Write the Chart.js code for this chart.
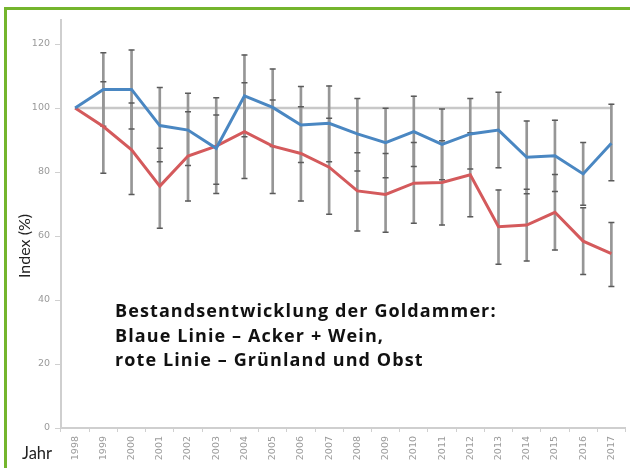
<!DOCTYPE html>
<html>
<head>
<meta charset="utf-8">
<script src="https://cdn.jsdelivr.net/npm/chart.js@4/dist/chart.umd.min.js"></script>
<style>
  html, body { margin: 0; padding: 0; background: #fff; }
  #wrap { position: relative; width: 630px; height: 468px; overflow: hidden; background: #fff; }
  #frame { position: absolute; left: 4px; top: 7px; width: 640px; height: 480px;
           border-top: 3px solid #74b52d; border-left: 3px solid #74b52d; }
  #c { position: absolute; left: 0; top: 0; }
  .note { position: absolute; left: 115px; top: 298px; font-family: "Open Sans", Lato, sans-serif;
          font-weight: bold; font-size: 18px; line-height: 24.5px; letter-spacing: 1.1px; color: #111; white-space: nowrap; }
  .jahr { position: absolute; left: 22px; top: 443px; font-family: Lato, sans-serif; font-size: 16.5px; color: #222; }
  .ytitle { position: absolute; left: 23px; top: 246px; transform: translate(-50%, -50%) rotate(-90deg);
            font-family: Lato, sans-serif; font-size: 16px; color: #222; white-space: nowrap; }
</style>
</head>
<body>
<div id="wrap">
  <div id="frame"></div>
  <canvas id="c" width="630" height="468"></canvas>
  <div class="ytitle">Index (%)</div>
  <div class="jahr">Jahr</div>
  <div class="note">Bestandsentwicklung der Goldammer:<br>Blaue Linie – Acker + Wein,<br>rote Linie – Grünland und Obst</div>
</div>
<script>
const years = ['1998','1999','2000','2001','2002','2003','2004','2005','2006','2007',
               '2008','2009','2010','2011','2012','2013','2014','2015','2016','2017'];
const blueIndex = [100,105.8,105.8,94.5,93.1,87.4,103.8,100.2,94.7,95.2,91.9,89.2,92.6,88.6,91.9,93.1,84.6,85.1,79.4,89.0];
const redIndex  = [100,94.2,86.9,75.6,85.0,88.1,92.6,88.1,85.8,81.5,74.1,73.0,76.5,76.7,79.1,62.9,63.4,67.4,58.4,54.5];
const blueHigh = [null,117.3,118.1,106.4,104.6,103.2,116.6,112.2,106.7,106.9,103.0,99.9,103.7,99.7,103.0,104.9,95.9,96.2,89.2,101.2];
const blueLow  = [null,94.3,93.4,83.2,82.0,76.2,91.0,88.0,83.0,83.2,80.3,78.2,81.7,77.6,80.9,81.3,73.2,73.9,69.6,77.3];
const redHigh  = [null,108.2,101.6,87.4,98.8,97.8,107.9,102.5,100.4,96.8,86.0,85.8,89.2,89.8,92.3,74.4,74.6,79.2,68.8,64.2];
const redLow   = [null,79.6,73.0,62.4,70.9,73.3,78.0,73.3,70.9,66.8,61.6,61.2,64.0,63.4,66.0,51.2,52.2,55.6,48.0,44.2];
const reference = years.map(() => 100);
const yTicks = [0,20,40,60,80,100,120];

const range = (lo, hi) => lo.map((v, i) => v === null ? null : [v, hi[i]]);
const capStyle = (data) => ({
  type: 'line', data, showLine: false, pointStyle: 'line', pointRadius: 3,
  pointBorderWidth: 1.5, pointBorderColor: '#5a5a5a', pointBackgroundColor: '#5a5a5a',
  borderColor: '#5a5a5a', order: 3, pointHoverRadius: 3
});

new Chart(document.getElementById('c'), {
  type: 'line',
  data: {
    labels: years,
    datasets: [
      { label: 'Acker + Wein', data: blueIndex, borderColor: '#4a87c2', borderWidth: 3,
        pointRadius: 0, tension: 0, order: 1 },
      { label: 'Grünland und Obst', data: redIndex, borderColor: '#d45a5c', borderWidth: 3,
        pointRadius: 0, tension: 0, order: 2 },
      capStyle(blueHigh), capStyle(blueLow), capStyle(redHigh), capStyle(redLow),
      { type: 'bar', data: range(blueLow, blueHigh), backgroundColor: '#969696',
        barThickness: 2, grouped: false, order: 4 },
      { type: 'bar', data: range(redLow, redHigh), backgroundColor: '#969696',
        barThickness: 2, grouped: false, order: 4 },
      { data: reference, borderColor: '#c8c8c8', borderWidth: 2.5, pointRadius: 0, order: 5 }
    ]
  },
  options: {
    responsive: false,
    animation: false,
    layout: { padding: { left: 0, right: 1, top: 20, bottom: 0 } },
    plugins: { legend: { display: false }, tooltip: { enabled: false } },
    scales: {
      x: {
        type: 'category',
        offset: true,
        afterFit: (s) => { s.height = 40; },
        grid: { offset: true, drawOnChartArea: false, drawTicks: true, tickLength: 4, color: '#d0d0d0', lineWidth: 1 },
        border: { color: '#cfcfcf', width: 2 },
        ticks: { autoSkip: false, maxRotation: 90, minRotation: 90, padding: 4,
                 color: '#9a9a9a', font: { family: 'DejaVu Sans', size: 9.5 } }
      },
      y: {
        min: 0, max: 127.5,
        afterFit: (s) => { s.width = 61; },
        afterBuildTicks: (s) => { s.ticks = yTicks.map(v => ({ value: v })); },
        grid: { drawOnChartArea: false, drawTicks: true, tickLength: 6, color: '#d0d0d0' },
        border: { color: '#cfcfcf', width: 2 },
        ticks: { padding: 5, color: '#9a9a9a', font: { family: 'DejaVu Sans', size: 9.5 } }
      }
    }
  }
});
</script>
</body>
</html>
